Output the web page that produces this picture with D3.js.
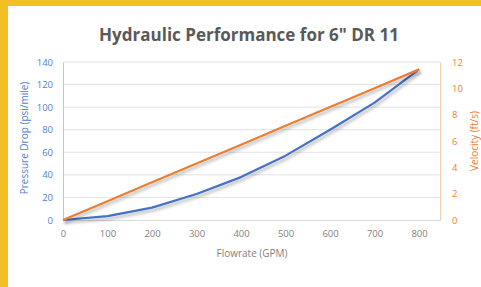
<!DOCTYPE html>
<html lang="en">
<head>
  <meta charset="utf-8">
  <title>Hydraulic Performance for 6" DR 11</title>
  <style>
    body { margin: 0; background: #fff; }
    svg text { font-family: "Open Sans", sans-serif; }
  </style>
</head>
<body>
  <script src="https://cdnjs.cloudflare.com/ajax/libs/d3/7.8.5/d3.min.js"></script>
  <script>
  // values
  const flowrate = [0, 100, 200, 300, 400, 500, 600, 700, 800];
  const pressureDrop = [0, 3.5, 11, 23, 38, 57, 80, 104, 133.5];
  const velocity = [0, 1.43, 2.86, 4.29, 5.72, 7.15, 8.58, 10.0, 11.44];
  const xTicks = [0, 100, 200, 300, 400, 500, 600, 700, 800];
  const leftTicks = [0, 20, 40, 60, 80, 100, 120, 140];
  const rightTicks = [0, 2, 4, 6, 8, 10, 12];

  const W = 481, H = 287;
  const plot = { left: 63, right: 440, top: 62, bottom: 220 };

  const svg = d3.select("body").append("svg")
    .attr("width", W)
    .attr("height", H);

  // drop shadow like the office chart
  const defs = svg.append("defs");
  const f = defs.append("filter").attr("id", "shadow")
    .attr("x", "-10%").attr("y", "-10%").attr("width", "120%").attr("height", "140%");
  f.append("feDropShadow")
    .attr("dx", 1.5).attr("dy", 2.5).attr("stdDeviation", 1.6)
    .attr("flood-color", "#000").attr("flood-opacity", 0.3);

  // yellow frame
  svg.append("rect").attr("x", 0).attr("y", 0).attr("width", W).attr("height", 6).attr("fill", "#F2BF24");
  svg.append("rect").attr("x", 0).attr("y", 0).attr("width", 8).attr("height", H).attr("fill", "#F2BF24");

  const x = d3.scaleLinear().domain([0, 847]).range([plot.left, plot.right]);
  const yL = d3.scaleLinear().domain([0, 140]).range([plot.bottom, plot.top]);
  const yR = d3.scaleLinear().domain([0, 12]).range([plot.bottom, plot.top]);

  // gridlines
  svg.append("g")
    .selectAll("line")
    .data(leftTicks.slice(1))
    .join("line")
    .attr("x1", plot.left).attr("x2", plot.right)
    .attr("y1", d => yL(d)).attr("y2", d => yL(d))
    .attr("stroke", "#e3e3e3").attr("stroke-width", 1);

  // x axis
  const xAxis = svg.append("g")
    .attr("transform", `translate(0,${plot.bottom})`)
    .call(d3.axisBottom(x).tickValues(xTicks).tickSize(0).tickPadding(10));
  xAxis.select(".domain").attr("stroke", "#d9d9d9");
  xAxis.selectAll("text").attr("fill", "#7f7f7f").style("font-size", "9.5px");

  // left axis
  const leftAxis = svg.append("g")
    .attr("transform", `translate(${plot.left},0)`)
    .call(d3.axisLeft(yL).tickValues(leftTicks).tickSize(0).tickPadding(10));
  leftAxis.select(".domain").attr("stroke", "#b4c7e7");
  leftAxis.selectAll("text").attr("fill", "#4f7fd4").style("font-size", "9.5px");

  // right axis
  const rightAxis = svg.append("g")
    .attr("transform", `translate(${plot.right},0)`)
    .call(d3.axisRight(yR).tickValues(rightTicks).tickSize(0).tickPadding(12));
  rightAxis.select(".domain").attr("stroke", "#f8cbad");
  rightAxis.selectAll("text").attr("fill", "#ED7D31").style("font-size", "9.5px");

  // lines
  const lineL = d3.line().x((d, i) => x(flowrate[i])).y(d => yL(d));
  const lineR = d3.line().x((d, i) => x(flowrate[i])).y(d => yR(d));

  svg.append("path")
    .datum(pressureDrop)
    .attr("d", lineL)
    .attr("fill", "none")
    .attr("stroke", "#4472C4")
    .attr("stroke-width", 2.2)
    .attr("stroke-linejoin", "round")
    .attr("filter", "url(#shadow)");

  svg.append("path")
    .datum(velocity)
    .attr("d", lineR)
    .attr("fill", "none")
    .attr("stroke", "#ED7D31")
    .attr("stroke-width", 2.2)
    .attr("stroke-linejoin", "round")
    .attr("filter", "url(#shadow)");

  // title
  svg.append("text")
    .attr("x", 249).attr("y", 41)
    .attr("text-anchor", "middle")
    .attr("fill", "#595959")
    .style("font-size", "17px")
    .style("font-weight", "bold")
    .text('Hydraulic Performance for 6" DR 11');

  // axis titles
  svg.append("text")
    .attr("x", 252).attr("y", 257)
    .attr("text-anchor", "middle")
    .attr("fill", "#7f7f7f")
    .style("font-size", "10px")
    .text("Flowrate (GPM)");

  svg.append("text")
    .attr("transform", "translate(28,138) rotate(-90)")
    .attr("text-anchor", "middle")
    .attr("fill", "#4f7fd4")
    .style("font-size", "10px")
    .text("Pressure Drop (psi/mile)");

  svg.append("text")
    .attr("transform", "translate(478,141) rotate(-90)")
    .attr("text-anchor", "middle")
    .attr("fill", "#ED7D31")
    .style("font-size", "10px")
    .text("Velocity (ft/s)");
  </script>
</body>
</html>
